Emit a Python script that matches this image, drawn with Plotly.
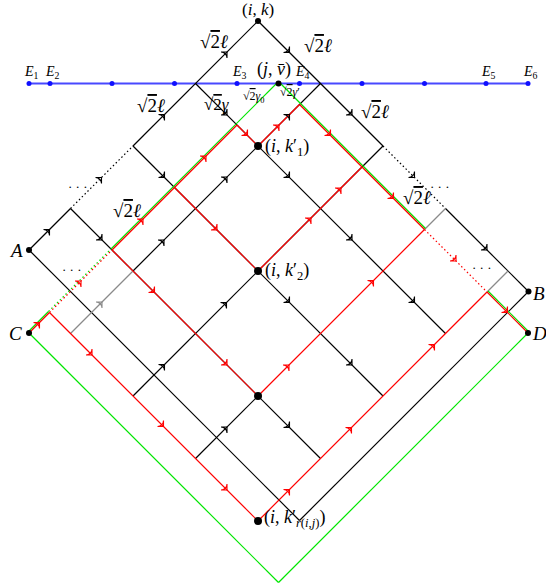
import plotly.graph_objects as go

# Lattice levels in pixel units: s = x + y (constant on "/" lines), d = x - y (constant on "\" lines)
S = {"s0": 279, "sg": 362, "s1": 404, "s2": 529, "s3": 654, "s4": 779, "sB": 820, "sG": 861}
D = {"d0": 237, "dg": 195, "d1": 112, "d2": -13, "d3": -138, "dA": -221, "d4": -263, "dG": -304}

# "/" segments: (s level, d start, d end, colour, dash)
UP_SEGS = [
    ("s0", "dA", "d3", "black", "solid"), ("s0", "d3", "d2", "black", "dot"), ("s0", "d2", "d0", "black", "solid"),
    ("s1", "d4", "d3", "gray", "solid"), ("s1", "d3", "d0", "black", "solid"),
    ("s2", "d4", "d0", "black", "solid"),
    ("s3", "d4", "d3", "black", "solid"), ("s3", "dg", "d0", "gray", "solid"),
    ("s4", "dg", "d0", "gray", "solid"),
    ("sB", "dA", "d0", "black", "solid"),
    ("sg", "dG", "d4", "green", "solid"), ("sg", "d4", "d3", "green", "dot"), ("sg", "d3", "dg", "green", "solid"),
    ("sG", "dG", "dg", "green", "solid"),
    ("sg", "dG", "d4", "red", "solid"), ("sg", "d4", "d3", "red", "dot"), ("sg", "d3", "d1", "red", "solid"),
    ("s1", "d1", "dg", "red", "solid"), ("s2", "d2", "dg", "red", "solid"),
    ("s3", "d3", "dg", "red", "solid"), ("s4", "d4", "dg", "red", "solid"),
]
# "\" segments: (d level, s start, s end, colour, dash)
DOWN_SEGS = [
    ("d0", "s0", "s2", "black", "solid"), ("d0", "s2", "s3", "black", "dot"), ("d0", "s3", "sB", "black", "solid"),
    ("d1", "s0", "s4", "black", "solid"), ("d2", "s0", "s4", "black", "solid"),
    ("d3", "s0", "s4", "black", "solid"), ("dA", "s0", "sB", "black", "solid"),
    ("dg", "sg", "s3", "green", "solid"), ("dg", "s4", "sG", "green", "solid"), ("dG", "sg", "sG", "green", "solid"),
    ("d1", "sg", "s1", "red", "solid"), ("d2", "sg", "s2", "red", "solid"),
    ("d3", "sg", "s3", "red", "solid"), ("d4", "sg", "s4", "red", "solid"),
    ("dg", "s1", "s3", "red", "solid"), ("dg", "s3", "s4", "red", "dot"), ("dg", "s4", "sG", "red", "solid"),
]
# arrowheads on "/" lines: (s level, d position, colour)
UP_ARROWS = [
    ("s0", -180, "black"), ("s0", -76, "black"), ("s0", 50, "black"), ("s0", 175, "black"),
    ("s1", -200, "gray"), ("s1", -76, "black"), ("s1", 50, "black"), ("s1", 175, "black"),
    ("s2", -200, "black"), ("s2", -76, "black"), ("s3", -200, "black"),
    ("sg", -283, "red"), ("sg", -200, "red"), ("sg", -76, "red"), ("sg", 50, "red"),
    ("s1", 154, "red"), ("s2", 93, "red"), ("s2", 153, "red"),
    ("s3", -76, "red"), ("s3", 93, "red"),
    ("s4", -200, "red"), ("s4", -76, "red"), ("s4", 90, "red"),
]
# arrowheads on "\" lines: (d level, s position, colour)
DOWN_ARROWS = [
    ("d0", 342, "black"), ("d0", 467, "black"), ("d0", 592, "black"), ("d0", 737, "black"),
    ("d1", 342, "black"), ("d1", 467, "black"), ("d1", 592, "black"), ("d1", 717, "black"),
    ("d2", 342, "black"), ("d2", 592, "black"), ("d2", 717, "black"),
    ("d3", 342, "black"), ("d3", 717, "black"),
    ("d1", 383, "red"), ("d2", 447, "red"), ("d3", 447, "red"), ("d3", 592, "red"),
    ("d4", 447, "red"), ("d4", 590, "red"), ("d4", 717, "red"),
    ("dg", 466, "red"), ("dg", 592, "red"), ("dg", 717, "red"), ("dg", 820, "red"),
]
SMALL_DOTS = [("s0", "d0"), ("s0", "dA"), ("sg", "dG"), ("sB", "d0"), ("sG", "dg"), ("sg", "dg")]
BIG_DOTS = [("s1", "d1"), ("s2", "d2"), ("s3", "d3"), ("s4", "d4")]

BLUE_Y = 83.5
BLUE_DOTS_X = [29, 50, 112, 174.5, 237, 299.5, 362, 424.5, 486, 528]
E_LABELS = [("E", "1", 29), ("E", "2", 50), ("E", "3", 237), ("E", "4", 300), ("E", "5", 486), ("E", "6", 528)]

COL = {"black": "#000000", "gray": "#8a8a8a", "red": "#ff0000", "green": "#00e600"}


def xy(s, d):
    return (s + d) / 2.0, (s - d) / 2.0


fig = go.Figure()

# blue line
fig.add_trace(go.Scatter(x=[BLUE_DOTS_X[0], BLUE_DOTS_X[-1]], y=[BLUE_Y, BLUE_Y], mode="lines",
                         line=dict(color="rgba(40,40,255,0.85)", width=2), hoverinfo="skip"))

order = ["black", "gray", "green", "red"]
for c in order:
    for sk, a, b, col, dash in UP_SEGS:
        if col != c:
            continue
        s = S[sk] - (2 if (col == "green" and sk == "sg") else 0)
        x0, y0 = xy(s, D[a]); x1, y1 = xy(s, D[b])
        fig.add_trace(go.Scatter(x=[x0, x1], y=[y0, y1], mode="lines", hoverinfo="skip",
                                 line=dict(color=COL[col], width=1.2,
                                           dash="1.5px,2.5px" if dash == "dot" else "solid")))
    for dk, a, b, col, dash in DOWN_SEGS:
        if col != c:
            continue
        d = D[dk] + (2 if (col == "green" and dk == "dg") else 0)
        x0, y0 = xy(S[a], d); x1, y1 = xy(S[b], d)
        fig.add_trace(go.Scatter(x=[x0, x1], y=[y0, y1], mode="lines", hoverinfo="skip",
                                 line=dict(color=COL[col], width=1.2,
                                           dash="1.5px,2.5px" if dash == "dot" else "solid")))

# arrowheads
for arrows, ang, kind in [(UP_ARROWS, 45, "up"), (DOWN_ARROWS, 135, "down")]:
    for c in ["black", "gray", "red"]:
        xs, ys = [], []
        for lev, pos, col in arrows:
            if col != c:
                continue
            if kind == "up":
                x, y = xy(S[lev], pos)
            else:
                x, y = xy(pos, D[lev])
            xs.append(x); ys.append(y)
        if xs:
            fig.add_trace(go.Scatter(x=xs, y=ys, mode="markers", hoverinfo="skip",
                                     marker=dict(symbol="arrow-wide-open", size=6, angle=ang,
                                                 color=COL[c], line=dict(color=COL[c], width=1.1))))

# blue dots
fig.add_trace(go.Scatter(x=BLUE_DOTS_X, y=[BLUE_Y] * len(BLUE_DOTS_X), mode="markers", hoverinfo="skip",
                         marker=dict(color="#1010ff", size=5)))
# black dots
sx, sy = zip(*[xy(S[a], D[b]) for a, b in SMALL_DOTS])
fig.add_trace(go.Scatter(x=sx, y=sy, mode="markers", hoverinfo="skip", marker=dict(color="black", size=6)))
bx, by = zip(*[xy(S[a], D[b]) for a, b in BIG_DOTS])
fig.add_trace(go.Scatter(x=bx, y=by, mode="markers", hoverinfo="skip", marker=dict(color="black", size=8)))

FONT = "Liberation Serif"


def label(text, x, y, size=16, xanchor="center"):
    fig.add_annotation(x=x, y=y, text=text, showarrow=False, xanchor=xanchor, yanchor="middle",
                       font=dict(family=FONT, size=size, color="black"))


SQ = "√<span style='text-decoration:overline'>2</span>"
label("(<i>i</i>, <i>k</i>)", 258, 9, 17)
for base, sub, x in E_LABELS:
    label(f"<i>{base}</i><sub>{sub}</sub>", x + 2, 72, 14)
label("(<i>j</i>, <i>v̄</i>)", 274, 69, 18)
for x, y in [(214, 41), (318, 45), (151, 105), (375, 111), (127, 210), (417, 197)]:
    label(SQ + "<i>ℓ</i>", x, y, 19)
label(SQ + "<i>γ</i>", 217, 104, 17)
label(SQ + "<i>γ</i><sub>0</sub>", 254, 97, 12)
label(SQ + "<i>γ</i>′", 290, 92, 12)
label("(<i>i</i>, <i>k</i>′<sub>1</sub>)", 263, 147, 18, "left")
label("(<i>i</i>, <i>k</i>′<sub>2</sub>)", 263, 271, 18, "left")
label("(<i>i</i>, <i>k</i>′<sub><i>r</i>(<i>i</i>,<i>j</i>)</sub>)", 262, 518, 18, "left")
label("<i>A</i>", 16, 250, 19)
label("<i>C</i>", 15, 333, 19)
label("<i>B</i>", 539, 293, 19)
label("<i>D</i>", 539, 333, 19)
for x, y in [(78, 186), (72, 269), (440, 186), (482, 267)]:
    label("· · ·", x, y, 13)

fig.update_layout(width=546, height=588, margin=dict(l=0, r=0, t=0, b=0), showlegend=False,
                  plot_bgcolor="white", paper_bgcolor="white",
                  xaxis=dict(range=[0, 546], visible=False, fixedrange=True),
                  yaxis=dict(range=[588, 0], visible=False, fixedrange=True))
fig.write_html("out.html", config={"displayModeBar": False},
               post_script="document.body.style.margin='0px';")
